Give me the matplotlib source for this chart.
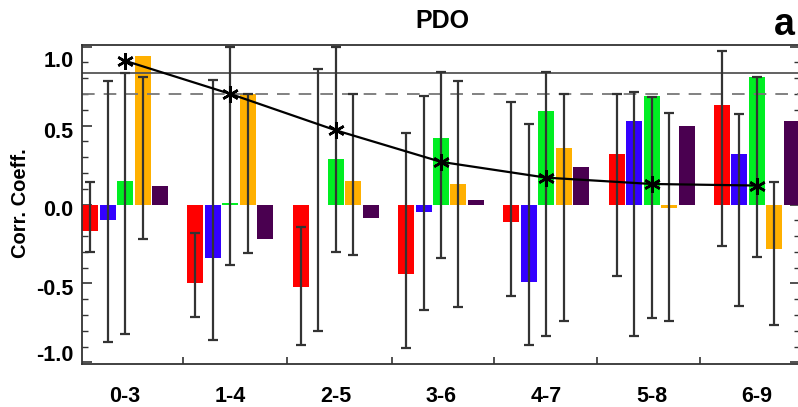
import numpy as np
import matplotlib.pyplot as plt
from matplotlib import transforms

plt.rcParams['font.family'] = ['Liberation Sans', 'DejaVu Sans']
plt.rcParams['font.weight'] = 'bold'

groups = ['0-3', '1-4', '2-5', '3-6', '4-7', '5-8', '6-9']

red = [-0.17, -0.50, -0.52, -0.44, -0.11, 0.32, 0.63]
red_lo = [-0.30, -0.71, -0.89, -0.91, -0.58, -0.45, -0.26]
red_hi = [0.14, -0.18, -0.14, 0.45, 0.65, 0.70, 0.97]

blue = [-0.10, -0.34, -0.005, -0.05, -0.49, 0.53, 0.32]
blue_lo = [-0.87, -0.86, -0.80, -0.67, -0.89, -0.83, -0.64]
blue_hi = [0.78, 0.79, 0.86, 0.69, 0.51, 0.71, 0.57]

green = [0.15, 0.01, 0.29, 0.42, 0.59, 0.69, 0.81]
green_lo = [-0.82, -0.38, -0.30, -0.34, -0.83, -0.72, -0.33]
green_hi = [0.83, 1.0, 1.0, 0.84, 0.84, 0.68, 0.81]

orange = [0.94, 0.70, 0.15, 0.13, 0.36, -0.02, -0.28]
orange_lo = [-0.22, -0.31, -0.32, -0.65, -0.74, -0.74, -0.76]
orange_hi = [0.81, 0.70, 0.70, 0.78, 0.70, 0.58, 0.14]

purple = [0.12, -0.22, -0.085, 0.03, 0.24, 0.50, 0.53]

mean_corr = [0.91, 0.70, 0.47, 0.27, 0.17, 0.13, 0.12]

sig_solid = 0.83
sig_dash = 0.70

series = [
    (red, red_lo, red_hi, '#ff0000'),
    (blue, blue_lo, blue_hi, '#3300ff'),
    (green, green_lo, green_hi, '#00ee22'),
    (orange, orange_lo, orange_hi, '#ffb000'),
    (purple, None, None, '#4a0050'),
]

fig = plt.figure(figsize=(7.98, 4.07), dpi=100)
ax = fig.add_axes([82 / 798, 43 / 407, 718 / 798, 319 / 407])

x = np.arange(len(groups))
step = 0.166
width = 0.152
ecol = '#333333'

for i, (vals, lo, hi, col) in enumerate(series):
    xs = x + (i - 2) * step
    ax.bar(xs, vals, width=width, color=col, linewidth=0, zorder=2)
    if lo is not None:
        lo = np.array(lo)
        hi = np.array(hi)
        mid = (lo + hi) / 2
        ax.errorbar(xs, mid, yerr=[mid - lo, hi - mid], fmt='none',
                    ecolor=ecol, elinewidth=1.6, capsize=3.5,
                    capthick=1.6, zorder=3)

ax.axhline(sig_solid, color='#555555', lw=1.3, zorder=2.5)
ax.axhline(sig_dash, color='#777777', lw=1.3, ls=(0, (7, 5)), zorder=2.5)

ax.plot(x, mean_corr, color='black', lw=1.6, marker=(6, 2, 0),
        markersize=12, mew=1.8, zorder=4)

ax.set_xlim(-0.41, 6.41)
ax.set_ylim(-1.01, 1.01)

ax.set_xticks([0.55, 1.54, 2.53, 3.50, 4.48, 5.46])
ax.set_xticklabels([])
ax.set_xticks(x, minor=True)
ax.set_xticklabels(groups, minor=True, fontsize=15.5, fontweight='bold')
ax.tick_params(axis='x', which='major', direction='in', length=5,
               width=1.2, color='#333333', top=False)
ax.tick_params(axis='x', which='minor', length=0, pad=16)

yt = [-1.0, -0.5, 0.0, 0.5, 1.0]
ax.set_yticks(yt)
ax.set_yticklabels(['%.1f' % v for v in yt], fontsize=15.5, fontweight='bold')
ax.set_yticks(np.arange(-1.0, 1.01, 0.1), minor=True)
ax.tick_params(axis='y', which='major', direction='in', length=7,
               width=1.2, color='#333333', right=True, pad=6)
ax.tick_params(axis='y', which='minor', direction='in', length=4,
               width=1.0, color='#333333', right=True)

shift = transforms.ScaledTranslation(0, -4 / 100, fig.dpi_scale_trans)
labs = ax.get_yticklabels()
for lab in labs:
    lab.set_transform(lab.get_transform() + shift)
labs[0].set_va('bottom')
labs[-1].set_va('top')

for s in ax.spines.values():
    s.set_linewidth(1.3)
    s.set_color('#333333')

fig.text(21 / 798, 1 - 203 / 407, 'Corr. Coeff.', rotation=90,
         ha='center', va='center', fontsize=14.5, fontweight='bold')
fig.text(442 / 798, 1 - 21 / 407, 'PDO', ha='center', va='center',
         fontsize=18, fontweight='bold')
fig.text(795 / 798, 1 - 35 / 407, 'a', ha='right', va='baseline',
         fontsize=27, fontweight='bold')

fig.savefig('out.png', dpi=100)
